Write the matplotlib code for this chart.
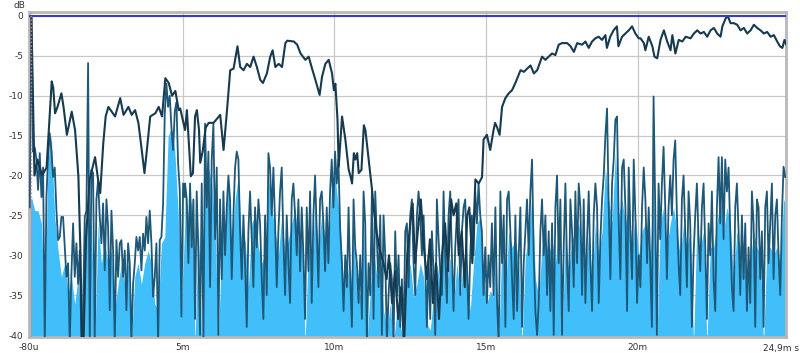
import numpy as np
import matplotlib
matplotlib.use('Agg')
from matplotlib import pyplot as plt

# impulse response (dark noisy trace), segments with constant step in ms
ir_step = 0.055
ir_t0 = [-0.055, 5.07, 10.19, 15.31, 20.42]
ir_db_1 = [-24, 0, -17, -16.5, -18, -21.8, -17.2, -22.7, -19, -41, -22.7, -17.7, -14.7, -17, -20.2, -19,
           -24.4, -28.1, -27.7, -25.2, -25.2, -29, -32.7, -31, -41, -32.3, -26, -32.7, -28.5, -33.6, -29.4,
           -41, -36.9, -25.2, -24.4, -5.9, -41, -19.3, -19.7, -41, -23, -20.6, -25.2, -28.5, -23.5, -31.9,
           -23, -26.4, -36.9, -24.4, -29.4, -41, -28.1, -32.7, -28.5, -28.1, -32.7, -29.4, -36.9, -28.5,
           -31, -41, -33.6, -31, -27.7, -29.4, -27.7, -31.9, -27.3, -29.4, -25.2, -28.5, -24.4, -28.5,
           -35.2, -32.7, -28.5, -41, -28.1, -27.7, -23.5, -12.2, -8.5, -11.4, -10, -14, -16.8, -12, -10.8,
           -18.5, -21.8, -37.7, -21, -22.7]
ir_db_2 = [-21, -23, -31, -21, -29, -23, -38, -22, -30, -40, -21, -41, -13.5, -24, -17, -34, -18, -13.5,
           -28, -19, -40, -23, -33, -22, -30, -24, -20, -23, -33, -25, -19, -17, -18, -27, -33, -25, -31,
           -39, -27, -22, -28, -34, -24, -29, -23, -26, -33, -38, -25, -35, -17.2, -19, -25, -19, -26, -34,
           -27, -22, -19, -28, -35, -25, -31, -36, -23, -21, -25, -30, -23, -32, -24, -30, -38, -24, -32,
           -22, -36, -25, -20, -27, -34, -23, -22, -26, -32, -24, -31, -22, -18, -24, -17, -21, -18]
ir_db_3 = [-27, -31, -37, -30, -34, -24, -33, -39, -23, -29, -31, -36, -30, -38, -22, -26, -41, -31, -35,
           -22, -38, -22, -28, -34, -25, -40, -25, -30, -41, -35, -31, -33, -41, -27, -35, -30, -39, -33,
           -41, -27, -26, -34, -25, -23, -31, -35, -25, -22, -25, -30, -25, -31, -39, -30, -38, -27, -32,
           -40, -23, -28, -32, -35, -22, -30, -36, -25, -22, -30, -37, -29, -25, -23, -35, -27, -24, -23,
           -31, -38, -30, -25, -30, -22, -26, -21, -25, -27, -35, -29, -36, -30, -34, -26, -35]
ir_db_4 = [-24, -36, -41, -22, -31, -25, -39, -23, -22, -27, -33, -38, -25, -37, -30, -24, -39, -31, -27,
           -23, -30, -22, -18, -30, -37, -40, -36, -27, -23, -30, -25, -35, -27, -37, -26, -40, -24, -20,
           -31, -23, -40, -29, -21, -31, -37, -23, -27, -34, -22, -31, -21, -24, -35, -23, -36, -28, -22,
           -31, -37, -25, -21, -24, -36, -28, -23, -20, -15, -11.6, -24, -33, -21, -18, -13, -12.6, -26,
           -33, -19, -18, -24, -37, -19, -27, -33, -18, -25, -36, -30, -34, -24, -19, -23, -31, -24]
ir_db_5 = [-31, -39, -10.1, -24, -40, -21, -28, -21, -16.4, -24, -33, -24, -20, -25, -18, -15.6, -25, -31,
           -35, -23, -20, -27, -34, -22, -26, -39, -30, -25, -21, -28, -32, -24, -21, -29, -38, -26, -30,
           -22, -33, -37, -24, -17.7, -26, -17.7, -28, -18, -22, -19, -27, -34, -37, -24, -21, -27, -35,
           -25, -33, -26, -37, -29, -36, -22, -26, -39, -23, -24, -33, -27, -39, -24, -22, -31, -26, -21,
           -33, -25, -23, -30, -35, -25, -18.9, -20.2]

# light blue filled trace
fill_step = 0.11
fill_t0 = [-0.11, 5.07, 10.19, 15.31, 20.42]
fill_db_1 = [-24, -22.7, -24.4, -24.4, -26, -36.9, -18, -15.1, -25.2, -29.4, -32.7, -31, -34.8, -32.7,
             -36.1, -32.7, -39.4, -26, -25.2, -26.4, -41, -26, -31, -28.5, -31, -29.4, -36.9, -33.6, -31,
             -33.6, -31, -41, -32.7, -31, -33.6, -31, -29.4, -31, -36.1, -36.9, -28.5, -27.7, -15.1,
             -13.9, -16.8, -24.4, -36.9, -26]
fill_db_2 = [-22, -25, -23, -41, -26, -41, -20, -19, -21, -27, -41, -28, -26, -21, -29, -23, -20, -29, -28,
             -34, -26, -25, -29, -31, -30, -20, -24, -27, -30, -25, -30, -28, -26, -24, -29, -26, -41, -29,
             -31, -24, -29, -25, -28, -29, -21, -20, -24]
fill_db_3 = [-26, -34, -31, -34, -28, -33.6, -35.2, -26, -41, -34.4, -29.4, -32.7, -31, -36.9,
             -39.4, -36.1, -41, -36.9, -38.6, -41, -32.7, -31, -35.2, -33.6, -31, -32.7, -38.6, -39.4,
             -35.2, -31, -33.6, -28.5, -33.6, -30.2, -36.1, -31, -35.2, -30.2, -32.7, -36.9, -31, -26,
             -25.2, -32.7, -36.1, -34.4, -35.2]
fill_db_4 = [-30, -41, -28, -35, -27, -29, -28, -31, -41, -30, -28, -22, -33, -35, -29, -28, -30, -28, -31,
             -26, -41, -27, -32, -28, -27, -26, -30, -32, -27, -33, -26, -30, -27, -19, -23, -26, -17, -25,
             -23, -26, -24, -29, -25, -30, -27, -26, -28]
fill_db_5 = [-30, -21, -41, -26, -24, -29, -26, -24, -27, -30, -26, -29, -27, -41, -26, -29, -27, -41, -29,
             -29, -26, -23, -27, -24, -26, -33, -27, -29, -30, -33, -31, -27, -29, -30, -41, -29, -29, -30,
             -29, -31, -23, -24]

# upper (smoothed) trace
etc_t = [0.0, 0.05, 0.1, 0.2, 0.35, 0.5, 0.56, 0.67, 0.72, 0.78, 0.86, 0.99, 1.06, 1.17, 1.33, 1.44,
         1.55, 1.62, 1.67, 1.72, 1.8, 1.92, 2.1, 2.2, 2.27, 2.37, 2.45, 2.54, 2.65, 2.76, 2.93, 3.04,
         3.2, 3.31, 3.42, 3.53, 3.64, 3.73, 3.81, 3.92, 4.09, 4.2, 4.31, 4.42, 4.53, 4.64, 4.75, 4.86,
         4.91, 5.07, 5.13, 5.21, 5.26, 5.33, 5.4, 5.46, 5.53, 5.57, 5.65, 5.75, 5.85, 6.01, 6.23, 6.34,
         6.45, 6.56, 6.67, 6.8, 6.89, 7.0, 7.11, 7.22, 7.33, 7.44, 7.55, 7.64, 7.77, 7.88, 7.96, 8.05,
         8.16, 8.27, 8.38, 8.44, 8.66, 8.77, 8.88, 9.04, 9.15, 9.26, 9.37, 9.51, 9.59, 9.7, 9.81, 9.92,
         9.98, 10.03, 10.1, 10.14, 10.25, 10.36, 10.47, 10.53, 10.58, 10.64, 10.69, 10.75, 10.8, 10.89,
         10.97, 11.02, 11.13, 11.24, 11.3, 11.4, 11.5, 11.62, 11.72, 11.8, 11.9, 12.0, 12.1, 12.2, 12.3,
         12.4, 12.5, 12.58, 12.66, 12.75, 12.85, 12.95, 13.05, 13.15, 13.25, 13.35, 13.45, 13.55, 13.65,
         13.75, 13.85, 13.93, 14.02, 14.1, 14.2, 14.3, 14.38, 14.45, 14.55, 14.65, 14.76, 14.87, 14.92,
         15.03, 15.14, 15.25, 15.3, 15.36, 15.45, 15.53, 15.64, 15.75, 15.86, 15.97, 16.14, 16.25, 16.36,
         16.47, 16.58, 16.69, 16.85, 16.96, 17.07, 17.18, 17.29, 17.4, 17.51, 17.68, 17.79, 17.9, 18.01,
         18.17, 18.28, 18.39, 18.5, 18.61, 18.72, 18.83, 18.94, 18.99, 19.1, 19.21, 19.32, 19.37, 19.49,
         19.6, 19.71, 19.82, 19.93, 20.04, 20.1, 20.21, 20.26, 20.37, 20.49, 20.56, 20.65, 20.76, 20.87,
         20.98, 21.09, 21.15, 21.25, 21.36, 21.48, 21.59, 21.75, 21.86, 21.97, 22.08, 22.19, 22.3, 22.41,
         22.52, 22.63, 22.74, 22.8, 22.91, 22.98, 23.07, 23.18, 23.29, 23.4, 23.51, 23.62, 23.73, 23.84,
         23.95, 24.06, 24.17, 24.28, 24.39, 24.5, 24.61, 24.7, 24.78, 24.85, 24.91]
etc_db = [0, -10, -20, -18, -20, -19, -15.2, -8.2, -9, -12.2, -11.4, -9.7, -11.4, -14.9, -12.0, -14.3,
          -20.1, -30, -41, -41, -28, -20.5, -17.7, -20.5, -22.2, -16.0, -12.6, -11.4, -12.0, -12.6, -10.3,
          -12.4, -11.4, -12.4, -11.8, -13.4, -16.8, -19.7, -16.8, -12.6, -12.2, -11.4, -12.6, -7.8, -8.4,
          -10.0, -9.4, -11.8, -11.6, -14.3, -11.8, -16.8, -20.1, -19.7, -12.6, -11.8, -14.3, -18.4, -17.0,
          -14.0, -13.4, -13.4, -12.4, -16.8, -12.0, -6.8, -6.6, -3.8, -6.4, -6.8, -6.0, -6.4, -5.1, -6.4,
          -8.0, -8.4, -7.2, -5.1, -4.3, -6.4, -6.0, -6.4, -3.4, -3.1, -3.2, -3.6, -4.7, -5.5, -5.1, -6.6,
          -8.0, -9.9, -7.6, -6.0, -5.5, -7.2, -9.3, -8.5, -13, -18.9, -12.6, -15.5, -19.3, -20.1, -21.0,
          -17.2, -18.0, -17.2, -19.7, -19.3, -13.7, -14.3, -18.0, -21.8, -24.3, -27.3, -29.4, -31, -33,
          -30, -36, -32, -38, -34, -41, -30, -26, -23.5, -31, -27, -23, -29, -33, -28, -36, -31, -38, -30,
          -26, -32, -23, -25, -23.5, -30, -27, -34, -25, -24, -31, -20.5, -21, -20.2, -15.5, -14.9, -16.8,
          -14.3, -13.4, -13.9, -14.9, -11.4, -10.3, -9.7, -9.3, -8.4, -6.8, -7.0, -6.6, -6.2, -7.2, -6.8,
          -5.1, -5.5, -5.1, -4.7, -4.9, -3.6, -3.4, -3.4, -3.8, -4.5, -3.4, -3.6, -3.2, -4.0, -3.2, -2.8,
          -2.6, -3.0, -2.4, -4.0, -2.6, -1.8, -1.3, -3.8, -2.6, -2.2, -1.8, -1.3, -2.2, -2.8, -2.8, -3.4,
          -4.3, -2.6, -3.8, -5.1, -5.3, -3.0, -1.8, -3.2, -4.3, -2.4, -4.7, -3.0, -3.2, -2.6, -2.8, -2.2,
          -1.8, -2.2, -2.0, -2.6, -1.8, -1.5, -2.2, -2.6, -1.3, -0.3, 0.0, -0.9, -0.9, -1.1, -1.8, -1.5,
          -2.2, -1.8, -1.1, -1.5, -1.8, -2.2, -2.0, -2.6, -2.4, -3.2, -3.8, -4.0, -3.0, -3.6]

x_ticks = [-0.08, 5, 10, 15, 20, 24.9]
x_labels = ['-80u', '5m', '10m', '15m', '20m', '']
y_ticks = [0, -5, -10, -15, -20, -25, -30, -35, -40]


def build(t0s, step, segs):
  ts = [t0 + step * np.arange(len(v)) for t0, v in zip(t0s, segs)]
  return np.concatenate(ts), np.concatenate([np.array(v, float) for v in segs])


ir_t, ir_db = build(ir_t0, ir_step, [ir_db_1, ir_db_2, ir_db_3, ir_db_4, ir_db_5])
fill_t, fill_db = build(fill_t0, fill_step, [fill_db_1, fill_db_2, fill_db_3, fill_db_4, fill_db_5])

fig = plt.figure(figsize=(8, 3.53), dpi=100)
ax = fig.add_axes([29 / 800, 16 / 353, 757 / 800, 325 / 353])
ax.set_xlim(-0.08, 24.9)
ax.set_ylim(-40.25, 0.5)

ax.fill_between(fill_t, -45, fill_db, color='#41bffb', lw=0, zorder=2)
ax.plot(ir_t, ir_db, color='#1d5878', lw=1.3, zorder=3)
ax.plot(etc_t, etc_db, color='#163a4f', lw=1.5, zorder=4)
ax.axhline(0, color='#3b3bcc', lw=1.5, zorder=5)
ax.axvline(0, color='#f08080', lw=1, ls=':', zorder=5)

ax.set_xticks(x_ticks)
ax.set_xticklabels(x_labels)
ax.set_yticks(y_ticks)
ax.set_yticklabels([str(v) for v in y_ticks])
ax.tick_params(length=0, labelsize=6.5, colors='#333333', pad=4)
ax.grid(True, color='#c8c8c8', lw=0.9, zorder=1)
ax.set_axisbelow(True)
for s in ax.spines.values():
  s.set_color('#b8b8b8')
  s.set_linewidth(2)

fig.text(13 / 800, 1 - 6 / 353, 'dB', fontsize=6.5, color='#333333', va='center')
fig.text(799 / 800, 1 - 348 / 353, '24,9m s', fontsize=6.5, color='#333333', va='center', ha='right')

plt.savefig('out.png', dpi=100)
